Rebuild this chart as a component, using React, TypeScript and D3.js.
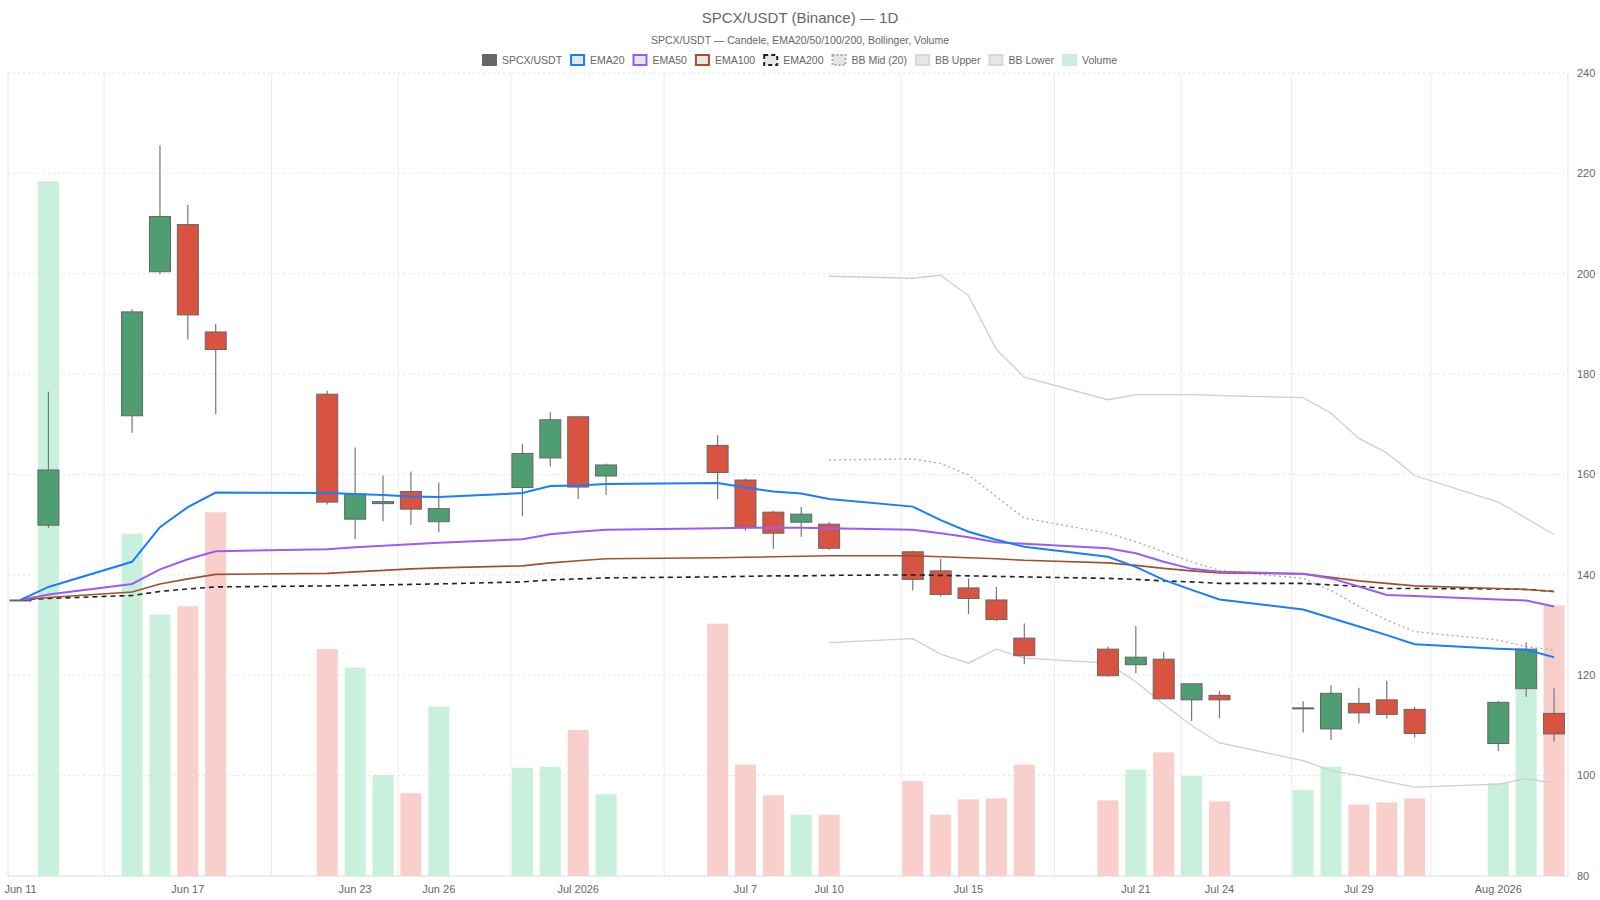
import React, { useEffect, useRef } from 'react';
import * as d3 from 'd3';

const dates = [
  '2026-06-11', '2026-06-12', '2026-06-15', '2026-06-16', '2026-06-17', '2026-06-18', '2026-06-22', '2026-06-23',
  '2026-06-24', '2026-06-25', '2026-06-26', '2026-06-29', '2026-06-30', '2026-07-01', '2026-07-02', '2026-07-06',
  '2026-07-07', '2026-07-08', '2026-07-09', '2026-07-10', '2026-07-13', '2026-07-14', '2026-07-15', '2026-07-16',
  '2026-07-17', '2026-07-20', '2026-07-21', '2026-07-22', '2026-07-23', '2026-07-24', '2026-07-27', '2026-07-28',
  '2026-07-29', '2026-07-30', '2026-07-31', '2026-08-03', '2026-08-04', '2026-08-05',
];
const open = [135, 149.9, 171.7, 200.4, 209.8, 188.4, 176, 151.1, 154.2, 156.6, 150.6, 157.4, 163.3, 171.5, 159.7, 165.8, 158.9, 152.5, 150.5, 150.1, 144.6, 140.8, 137.4, 135, 127.4, 125.2, 122.1, 123.2, 115.1, 116, 113.5, 109.3, 114.4, 115.1, 113.2, 106.4, 117.3, 112.4];
const high = [135, 176.5, 192.9, 225.6, 213.7, 190, 176.7, 165.4, 159.8, 160.6, 158.4, 166.1, 172.4, 171.7, 162.2, 167.8, 159.2, 152.8, 153.5, 150.5, 144.8, 143.2, 139.3, 137.6, 130.3, 125.7, 129.8, 124.7, 118.3, 116.9, 114.8, 118, 117.5, 118.9, 113.7, 114.9, 126.6, 117.4];
const low = [135, 149.3, 168.3, 199.9, 186.9, 172, 154, 147.1, 150.7, 150, 148.5, 151.7, 161.6, 155.1, 155.9, 155.1, 148.8, 145.2, 147.6, 145, 136.9, 135.7, 132.2, 130.8, 122.2, 119.7, 120.4, 115.3, 110.9, 111.4, 108.6, 107.1, 110.4, 111.4, 107.6, 104.9, 115.7, 106.8];
const close = [135, 160.9, 192.4, 211.4, 191.8, 184.9, 154.5, 156.1, 154.6, 153.1, 153.2, 164.2, 170.9, 157.5, 161.9, 160.4, 149.5, 148.3, 152.1, 145.3, 139.1, 136.1, 135.3, 131.1, 123.9, 119.9, 123.6, 115.3, 118.3, 115.1, 113.5, 116.4, 112.5, 112.2, 108.4, 114.6, 125.2, 108.3];
const volume = [0, 680, 335, 256, 264, 356, 222, 204, 99, 81, 166, 106, 107, 143, 80, 247, 109, 79, 60, 60, 93, 60, 75, 76, 109, 74, 104, 121, 98, 73, 84, 107, 70, 72, 76, 91, 182, 265];

const ema20 = [135, 137.6, 142.6, 149.5, 153.5, 156.4, 156.3, 156.1, 155.9, 155.6, 155.5, 156.3, 157.7, 157.8, 158.1, 158.3, 157.4, 156.6, 156.2, 155.1, 153.6, 150.9, 148.6, 147, 145.6, 143.6, 141.6, 139, 137, 135.1, 133.1, 131.4, 129.7, 128, 126.2, 125.3, 125.1, 123.6];
const ema50 = [135, 136.1, 138.2, 141.1, 143.1, 144.7, 145.1, 145.5, 145.8, 146.1, 146.4, 147.1, 148.1, 148.6, 149, 149.3, 149.4, 149.4, 149.4, 149.3, 149, 148.3, 147.5, 146.5, 146.2, 145.3, 144.3, 142.6, 141.2, 140.6, 140.2, 139.3, 137.7, 136, 135.8, 135.1, 134.9, 133.7];
const ema100 = [135, 135.5, 136.6, 138.2, 139.2, 140.1, 140.3, 140.6, 140.9, 141.2, 141.4, 141.8, 142.4, 142.8, 143.2, 143.4, 143.5, 143.6, 143.7, 143.8, 143.8, 143.6, 143.4, 143.2, 142.9, 142.4, 141.9, 141.3, 140.8, 140.4, 140.2, 139.5, 138.8, 138.3, 137.8, 137.3, 137.1, 136.7];
const ema200 = [135, 135.3, 135.9, 136.7, 137.2, 137.6, 137.8, 137.9, 138, 138.1, 138.2, 138.6, 139, 139.2, 139.4, 139.6, 139.7, 139.8, 139.8, 139.9, 140, 139.9, 139.8, 139.7, 139.6, 139.3, 139.1, 138.8, 138.6, 138.3, 138.3, 138, 137.7, 137.3, 137.3, 137.2, 137.1, 136.7];

// Bollinger bands start at Jul 10 (index 19)
const bbStart = 19;
const bbMid = [162.9, 163.1, 162.2, 159.9, 155.6, 151.3, 148.3, 146.6, 144.6, 142.6, 140.9, 139.3, 136.9, 133.7, 131, 128.7, 127, 125.7, 125];
const bbUpper = [199.5, 199.1, 199.7, 195.6, 184.9, 179.4, 174.9, 175.9, 175.9, 175.9, 175.7, 175.3, 172.2, 167.2, 164.3, 159.8, 154.5, 151.3, 148];
const bbLower = [126.5, 127.3, 124.2, 122.4, 125.2, 123.4, 122.4, 118.7, 114.2, 110, 106.5, 103, 101, 100, 98.8, 97.7, 98.3, 99.4, 98.5];

const tickDates = ['2026-06-11', '2026-06-17', '2026-06-23', '2026-06-26', '2026-07-01', '2026-07-07', '2026-07-10', '2026-07-15', '2026-07-21', '2026-07-24', '2026-07-29', '2026-08-03'];
const tickLabels = ['Jun 11', 'Jun 17', 'Jun 23', 'Jun 26', 'Jul 2026', 'Jul 7', 'Jul 10', 'Jul 15', 'Jul 21', 'Jul 24', 'Jul 29', 'Aug 2026'];
const gridDates = ['2026-06-14T00:00', '2026-06-20T00:00', '2026-06-24T13:00', '2026-06-28T14:00', '2026-07-04T02:00', '2026-07-12T14:00', '2026-07-18T02:00', '2026-07-22T15:00', '2026-07-26T14:00', '2026-07-31T14:00'];
const yTicks = [80, 100, 120, 140, 160, 180, 200, 220, 240];

const UP = '#4f9e71';
const DOWN = '#d85440';
const FONT = '"Liberation Sans", Arial, sans-serif';

export default function App() {
  const svgRef = useRef<SVGSVGElement>(null);

  useEffect(() => {
    const svg = d3.select(svgRef.current);
    svg.selectAll('*').remove();

    const W = 1600;
    const left = 8, right = 1568, top = 73, bottom = 876;
    const parse = (s: string) => new Date(s.length > 10 ? s + 'Z' : s + 'T00:00Z');
    const day = 86400000;
    const t0 = parse(dates[0]).getTime(), t1 = parse(dates[dates.length - 1]).getTime();

    const x = d3.scaleUtc().domain([new Date(t0 - 0.45 * day), new Date(t1 + 0.5 * day)]).range([left, right]);
    const y = d3.scaleLinear().domain([80, 240]).range([bottom, top]);
    const yVol = d3.scaleLinear().domain([0, 786]).range([bottom, top]);

    const rows = dates.map((d, i) => ({
      t: parse(d), o: open[i], h: high[i], l: low[i], c: close[i], v: volume[i],
    }));

    // grid
    const grid = svg.append('g');
    grid.selectAll('line.h').data(yTicks).enter().append('line')
      .attr('x1', left).attr('x2', right).attr('y1', d => y(d)).attr('y2', d => y(d))
      .attr('stroke', '#e3e3e3').attr('stroke-dasharray', '2 3');
    grid.selectAll('line.v').data(gridDates).enter().append('line')
      .attr('x1', d => x(parse(d))).attr('x2', d => x(parse(d))).attr('y1', top).attr('y2', bottom)
      .attr('stroke', '#ececec');
    grid.append('line').attr('x1', left).attr('x2', left).attr('y1', top).attr('y2', bottom).attr('stroke', '#e0e0e0');
    grid.append('line').attr('x1', right).attr('x2', right).attr('y1', top).attr('y2', bottom).attr('stroke', '#e0e0e0');
    grid.append('line').attr('x1', left).attr('x2', right).attr('y1', bottom).attr('y2', bottom).attr('stroke', '#e0e0e0');

    const bw = 21;

    // volume
    svg.append('g').selectAll('rect').data(rows.filter(r => r.v > 0)).enter().append('rect')
      .attr('x', d => x(d.t) - bw / 2).attr('width', bw)
      .attr('y', d => yVol(d.v)).attr('height', d => bottom - yVol(d.v))
      .attr('fill', d => d.c >= d.o ? '#c9f0dc' : '#f8cfca');

    // bollinger
    const bbDates = dates.slice(bbStart, bbStart + bbMid.length).map(parse);
    const lineOf = (vals: number[], ts: Date[]) =>
      d3.line<number>().x((_, i) => x(ts[i])).y(v => y(v))(vals);
    const ts = rows.map(r => r.t);
    svg.append('path').attr('d', lineOf(bbUpper, bbDates)).attr('fill', 'none').attr('stroke', '#cfcfcf').attr('stroke-width', 1.3);
    svg.append('path').attr('d', lineOf(bbLower, bbDates)).attr('fill', 'none').attr('stroke', '#cfcfcf').attr('stroke-width', 1.3);
    svg.append('path').attr('d', lineOf(bbMid, bbDates)).attr('fill', 'none').attr('stroke', '#aaaaaa').attr('stroke-width', 1.3).attr('stroke-dasharray', '2 3');

    // candles
    const cg = svg.append('g').selectAll('g').data(rows).enter().append('g');
    cg.append('line')
      .attr('x1', d => x(d.t)).attr('x2', d => x(d.t)).attr('y1', d => y(d.h)).attr('y2', d => y(d.l))
      .attr('stroke', '#777').attr('stroke-width', 1.2);
    cg.append('rect')
      .attr('x', d => x(d.t) - bw / 2).attr('width', bw)
      .attr('y', d => y(Math.max(d.o, d.c)))
      .attr('height', d => Math.max(1, Math.abs(y(d.o) - y(d.c))))
      .attr('fill', d => d.c >= d.o ? UP : DOWN)
      .attr('stroke', '#666').attr('stroke-width', 1);

    // EMAs
    svg.append('path').attr('d', lineOf(ema200, ts)).attr('fill', 'none').attr('stroke', '#222').attr('stroke-width', 1.6).attr('stroke-dasharray', '5 4');
    svg.append('path').attr('d', lineOf(ema100, ts)).attr('fill', 'none').attr('stroke', '#a0522d').attr('stroke-width', 1.6);
    svg.append('path').attr('d', lineOf(ema50, ts)).attr('fill', 'none').attr('stroke', '#9b5cf6').attr('stroke-width', 2);
    svg.append('path').attr('d', lineOf(ema20, ts)).attr('fill', 'none').attr('stroke', '#1a7cff').attr('stroke-width', 2);

    // axes labels
    svg.append('g').selectAll('text').data(yTicks).enter().append('text')
      .attr('x', right + 9).attr('y', d => y(d)).attr('dy', '0.35em')
      .attr('font-size', 11).attr('font-family', FONT).attr('fill', '#666').text(d => d);
    svg.append('g').selectAll('text').data(tickDates).enter().append('text')
      .attr('x', d => x(parse(d))).attr('y', bottom + 17).attr('text-anchor', 'middle')
      .attr('font-size', 11).attr('font-family', FONT).attr('fill', '#666').text((_, i) => tickLabels[i]);

    // titles
    svg.append('text').attr('x', W / 2).attr('y', 23).attr('text-anchor', 'middle')
      .attr('font-size', 15).attr('font-family', FONT).attr('fill', '#666').text('SPCX/USDT (Binance) — 1D');
    svg.append('text').attr('x', W / 2).attr('y', 44).attr('text-anchor', 'middle')
      .attr('font-size', 10.5).attr('font-family', FONT).attr('fill', '#666').text('SPCX/USDT — Candele, EMA20/50/100/200, Bollinger, Volume');

    // legend
    const legend = [
      { label: 'SPCX/USDT', fill: '#666', stroke: '#666', dash: '' },
      { label: 'EMA20', fill: '#e6e6e6', stroke: '#1a7cff', dash: '' },
      { label: 'EMA50', fill: '#e6e6e6', stroke: '#9b5cf6', dash: '' },
      { label: 'EMA100', fill: '#e6e6e6', stroke: '#a0522d', dash: '' },
      { label: 'EMA200', fill: '#e6e6e6', stroke: '#222', dash: '4 3' },
      { label: 'BB Mid (20)', fill: '#e6e6e6', stroke: '#aaa', dash: '2 2' },
      { label: 'BB Upper', fill: '#e6e6e6', stroke: '#d8d8d8', dash: '' },
      { label: 'BB Lower', fill: '#e6e6e6', stroke: '#d8d8d8', dash: '' },
      { label: 'Volume', fill: '#c9f0dc', stroke: '#c9f0dc', dash: '' },
    ];
    const lg = svg.append('g');
    let cx = 0;
    legend.forEach(item => {
      const g = lg.append('g').attr('transform', `translate(${cx},0)`);
      g.append('rect').attr('x', 0).attr('y', -5).attr('width', 13).attr('height', 10)
        .attr('fill', item.fill).attr('stroke', item.stroke).attr('stroke-width', 2)
        .attr('stroke-dasharray', item.dash || null);
      const t = g.append('text').attr('x', 19).attr('dy', '0.35em')
        .attr('font-size', 10.5).attr('font-family', FONT).attr('fill', '#666').text(item.label);
      cx += 19 + (t.node() as SVGTextElement).getComputedTextLength() + 9;
    });
    lg.attr('transform', `translate(${(W - (cx - 9)) / 2},${60})`);
  }, []);

  return (
    <svg ref={svgRef} width={1600} height={900}
      style={{ position: 'absolute', left: 0, top: 0, background: '#fff' }} />
  );
}
